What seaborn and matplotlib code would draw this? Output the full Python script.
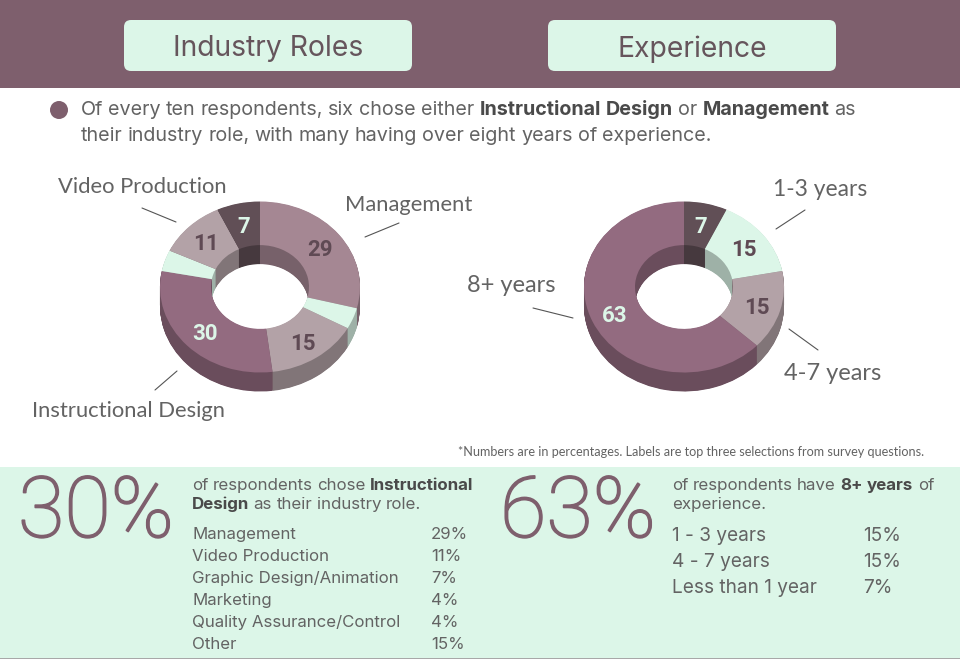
import matplotlib as mpl
import matplotlib.pyplot as plt
from matplotlib.patches import Rectangle, FancyBboxPatch, Circle
import matplotlib.patheffects as pe
import seaborn as sns

sns.set_theme(style="white")

# data
role_values = [29, 4, 15, 30, 4, 11, 7]
role_colors = ["#a58793", "#dcf6e8", "#b3a2a7", "#936b80", "#dcf6e8", "#b3a2a7", "#614f56"]
role_text = ["#5f4a54", "#5f4a54", "#5f4a54", "#dcf6e8", "#5f4a54", "#5f4a54", "#dcf6e8"]

exp_values = [7, 15, 15, 63]
exp_colors = ["#614f56", "#dcf6e8", "#b3a2a7", "#936b80"]
exp_text = ["#dcf6e8", "#5f4a54", "#5f4a54", "#dcf6e8"]

role_table = ["Management", "Video Production", "Graphic Design/Animation", "Marketing",
              "Quality Assurance/Control", "Other"]
role_table_pct = ["29%", "11%", "7%", "4%", "4%", "15%"]
exp_table = ["1 - 3 years", "4 - 7 years", "Less than 1 year"]
exp_table_pct = ["15%", "15%", "7%"]

MAUVE = "#7e5f6d"
MINT = "#dcf6e8"
GREY = "#636363"
BODY = "Inter"
LABEL = "Lato"

figure = plt.figure(figsize=(9.6, 6.59), dpi=100, facecolor="white")

# page layer in pixel coordinates
page = figure.add_axes([0, 0, 1, 1])
page.set(xlim=(0, 960), ylim=(659, 0))
page.axis("off")
page.add_patch(Rectangle((0, 0), 960, 88, color=MAUVE, lw=0))
page.add_patch(Rectangle((0, 467), 960, 191, color=MINT, lw=0))
page.add_patch(Rectangle((0, 657.5), 960, 1.5, color="#a8a8a8", lw=0))
for left in [124, 548]:
    page.add_patch(FancyBboxPatch((left + 7, 27), 274, 37, boxstyle="round,pad=7,rounding_size=7",
                                  color=MINT, lw=0))
page.add_patch(Circle((59, 110), 9, color=MAUVE, lw=0))

page.text(268, 46, "Industry Roles", ha="center", va="center_baseline", family=BODY, fontsize=20.4, color="#66555c")
page.text(692, 46, "Experience", ha="center", va="center_baseline", family=BODY, fontsize=20.4, color="#66555c")


def rich_line(x, y, words, size, color=GREY):
    # words is a list of (word, bold) drawn one run after the other
    renderer = figure.canvas.get_renderer()
    for word, bold in words:
        t = page.text(x, y, word, family=BODY, fontsize=size, va="baseline",
                      weight="bold" if bold else "normal", color="#4a4a4a" if bold else color)
        x += t.get_window_extent(renderer).width + size * 0.36


def plain(text):
    return [(w, False) for w in text.split()]


rich_line(81, 115, plain("Of every ten respondents, six chose either") + [("Instructional", True), ("Design", True), ("or", False),
          ("Management", True)] + plain("as"), 14.2)
rich_line(81, 141, plain("their industry role, with many having over eight years of experience."), 14.2)

for text, x, y, size in [("Video Production", 142, 185, 15.8), ("Management", 409, 203, 15.8),
                         ("Instructional Design", 129, 409, 15.8), ("1-3 years", 820, 187, 16.4),
                         ("8+ years", 511, 283, 17), ("4-7 years", 833, 371, 17)]:
    page.text(x, y, text, ha="center", va="center_baseline", family=LABEL, fontsize=size, color=GREY)

for x0, y0, x1, y1 in [(142, 208, 176, 222), (365, 237, 399, 223), (155, 390, 177, 371),
                       (776, 229, 805, 210), (789, 329, 818, 350), (533, 308, 573, 318)]:
    page.plot([x0, x1], [y0, y1], color="#555555", lw=0.8)

page.text(924, 451, "*Numbers are in percentages. Labels are top three selections from survey questions.",
          ha="right", va="center_baseline", family=LABEL, fontsize=9.1, color=GREY)

# big figures and tables
thicker = [pe.withStroke(linewidth=1.2, foreground=MAUVE)]
page.text(18, 537, "30%", family="Roboto", weight="light", fontsize=61, color=MAUVE, va="baseline", path_effects=thicker)
page.text(500, 537, "63%", family="Roboto", weight="light", fontsize=61, color=MAUVE, va="baseline", path_effects=thicker)

rich_line(192, 490, plain("of respondents chose") + [("Instructional", True)], 12.2)
rich_line(192, 509, [("Design", True)] + plain("as their industry role."), 12.2)
rich_line(672, 490, plain("of respondents have") + [("8+", True), ("years", True)] + plain("of"), 12.2)
rich_line(672, 509, plain("experience."), 12.2)

for i, (name, pct) in enumerate(zip(role_table, role_table_pct)):
    page.text(192, 539 + i * 22, name, family=BODY, fontsize=12.1, color=GREY, va="baseline")
    page.text(431, 539 + i * 22, pct, family=BODY, fontsize=12.1, color=GREY, va="baseline")

for i, (name, pct) in enumerate(zip(exp_table, exp_table_pct)):
    page.text(672, 541 + i * 26, name, family=BODY, fontsize=13.7, color=GREY, va="baseline")
    page.text(863, 541 + i * 26, pct, family=BODY, fontsize=13.7, color=GREY, va="baseline")


def donut(cx, cy, values, colors, text_colors):
    # one unit is rx=100 px across and ry=85.5 px up; the depth is stacked pies
    rx, ry, depth = 100, 85.5, 19
    pad = 4
    top, bottom = cy - ry - pad, cy + ry + depth + pad
    ax = figure.add_axes([(cx - rx - pad) / 960, 1 - bottom / 659, (2 * rx + 2 * pad) / 960, (bottom - top) / 659])
    shaded = [tuple(c * 0.72 for c in mpl.colors.to_rgb(col)) for col in colors]
    for k in range(depth * 2, 0, -1):
        ax.pie(values, colors=shaded, startangle=90, counterclock=False, center=(0, -k / 2 / ry),
               wedgeprops={"width": 0.51, "linewidth": 0})
    wedges, _, autos = ax.pie(values, colors=colors, startangle=90, counterclock=False,
                              wedgeprops={"width": 0.51, "linewidth": 0},
                              autopct=lambda p: f"{p:.0f}" if p > 5 else "", pctdistance=0.76,
                              textprops={"family": "Roboto", "weight": "bold", "fontsize": 16})
    for t, c in zip(autos, text_colors):
        t.set_color(c)
        t.set_y(t.get_position()[1] - 0.035)
    ax.set_aspect("auto")
    ax.set_xlim(-(rx + pad) / rx, (rx + pad) / rx)
    ax.set_ylim(-(ry + depth + pad) / ry, (ry + pad) / ry)
    ax.patch.set_alpha(0)
    return ax


donut(260, 287, role_values, role_colors, role_text)
donut(684, 287, exp_values, exp_colors, exp_text)

figure.savefig("out.png", dpi=100)
